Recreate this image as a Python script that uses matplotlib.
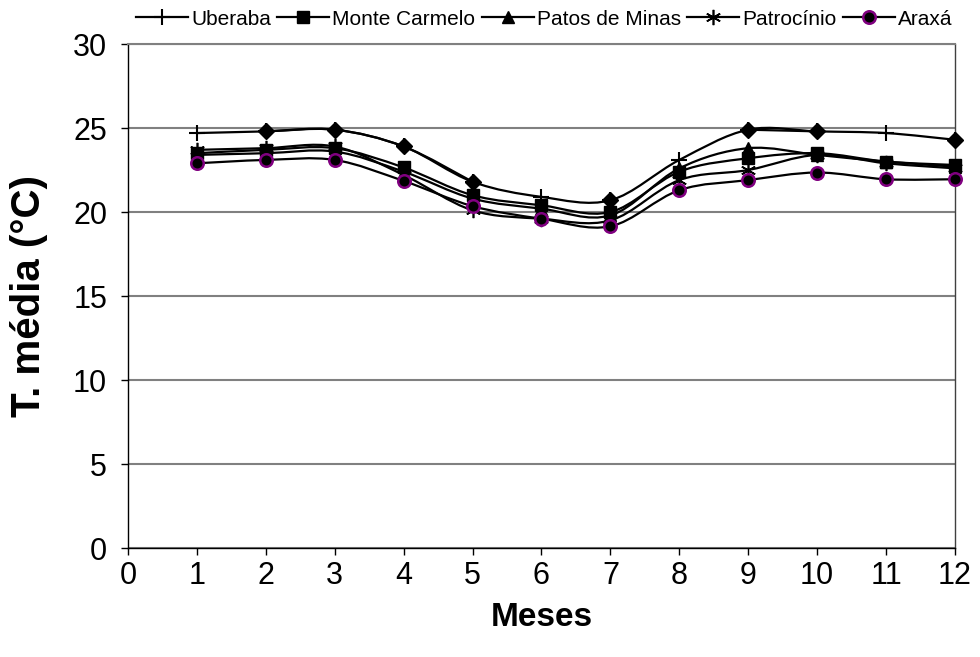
import numpy as np
import matplotlib
matplotlib.use("Agg")
import matplotlib.pyplot as plt
from matplotlib.path import Path
from matplotlib.patches import PathPatch

plt.rcParams['font.family'] = ['Liberation Sans', 'DejaVu Sans']

# data
meses = np.arange(1, 13)
uberaba = [24.7, 24.8, 24.9, 23.9, 21.8, 20.9, 20.7, 23.1, 24.9, 24.8, 24.7, 24.3]
monte_carmelo = [23.5, 23.7, 23.8, 22.65, 21.0, 20.4, 20.0, 22.4, 23.2, 23.5, 23.0, 22.8]
patos_de_minas = [23.4, 23.5, 23.6, 22.4, 20.8, 20.2, 19.8, 22.6, 23.8, 23.4, 23.0, 22.7]
patrocinio = [23.7, 23.8, 23.9, 22.2, 20.1, 19.6, 19.5, 21.9, 22.5, 23.4, 22.9, 22.6]
araxa = [22.9, 23.1, 23.1, 21.85, 20.35, 19.6, 19.15, 21.3, 21.9, 22.35, 21.95, 21.95]
# sixth series (legend entry cut off in the original)
sexta = [np.nan, 24.8, 24.9, 23.9, 21.8, np.nan, 20.7, np.nan, 24.9, 24.8, np.nan, 24.3]

x_ticks = list(range(0, 13))
y_ticks = list(range(0, 31, 5))


def smooth_path(x, y):
    # Excel-like smoothed line: Catmull-Rom turned into cubic beziers
    x = np.asarray(x, float)
    y = np.asarray(y, float)
    verts, codes = [], []
    ok = ~np.isnan(y)
    i = 0
    n = len(x)
    while i < n:
        if not ok[i]:
            i += 1
            continue
        j = i
        while j + 1 < n and ok[j + 1]:
            j += 1
        px, py = x[i:j + 1], y[i:j + 1]
        verts.append((px[0], py[0]))
        codes.append(Path.MOVETO)
        for k in range(len(px) - 1):
            k0 = max(k - 1, 0)
            k3 = min(k + 2, len(px) - 1)
            c1 = (px[k] + (px[k + 1] - px[k0]) / 6, py[k] + (py[k + 1] - py[k0]) / 6)
            c2 = (px[k + 1] - (px[k3] - px[k]) / 6, py[k + 1] - (py[k3] - py[k]) / 6)
            verts += [c1, c2, (px[k + 1], py[k + 1])]
            codes += [Path.CURVE4] * 3
        i = j + 1
    return Path(verts, codes)


fig = plt.figure(figsize=(9.8, 6.57), dpi=100)
ax = fig.add_axes([0.1306, 0.1659, 0.8439, 0.7671])

series = [
    ("Uberaba", uberaba, dict(marker="+", ms=11, mew=1.5, mfc="black", mec="black")),
    ("Monte Carmelo", monte_carmelo, dict(marker="s", ms=8, mfc="black", mec="black")),
    ("Patos de Minas", patos_de_minas, dict(marker="^", ms=9, mfc="black", mec="black")),
    ("Patrocínio", patrocinio, dict(marker=(6, 2, 0), ms=11, mew=1.2, mfc="black", mec="black")),
    ("Araxá", araxa, dict(marker="o", ms=9, mew=1.8, mfc="black", mec="#800080")),
    ("_sexta", sexta, dict(marker="D", ms=8, mfc="black", mec="black")),
]

handles = []
for name, vals, mk in series:
    ax.add_patch(PathPatch(smooth_path(meses, vals), fill=False, lw=1.6,
                           edgecolor="black", zorder=3))
    ax.plot(meses, vals, ls="none", zorder=4, clip_on=False, **mk)
    if not name.startswith("_"):
        lh, = ax.plot([], [], color="black", lw=1.6, **mk)
        lh.set_label(name)
        handles.append(lh)

ax.set_xlim(0, 12)
ax.set_ylim(0, 30)
ax.set_xticks(x_ticks)
ax.set_yticks(y_ticks)
ax.tick_params(labelsize=22, length=5, width=1, direction="out")
ax.tick_params(axis="y", pad=10)
ax.tick_params(axis="x", pad=4)
ax.yaxis.grid(True, color="#808080", lw=1.5)
ax.set_axisbelow(True)
ax.spines["top"].set_color("#808080")
ax.spines["top"].set_linewidth(1.5)
ax.spines["right"].set_color("#404040")
ax.spines["right"].set_linewidth(1)
ax.spines["left"].set_linewidth(1)
ax.spines["bottom"].set_linewidth(1)

ax.set_xlabel("Meses", fontsize=24, fontweight="bold", labelpad=8)
ax.set_ylabel("T. média (°C)", fontsize=29, fontweight="bold", labelpad=18)

fig.legend(handles=handles, loc="upper left", bbox_to_anchor=(0.130, 0.998),
           ncol=5, frameon=False, fontsize=15, handlelength=2.5,
           handletextpad=0.15, columnspacing=0.3, borderaxespad=0)

fig.savefig("out.png", dpi=100)
